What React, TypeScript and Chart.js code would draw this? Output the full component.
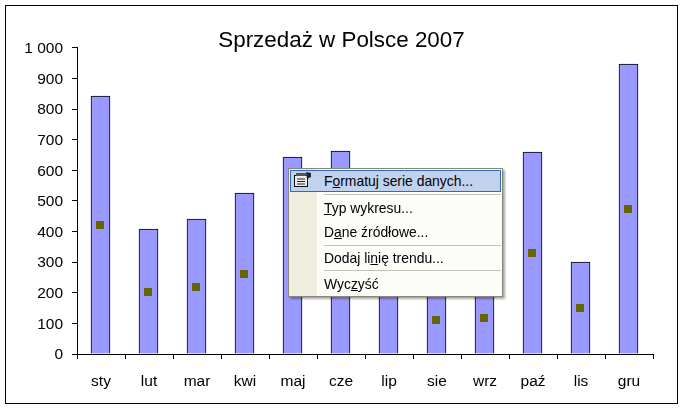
import React, { useEffect, useRef } from "react";
import { Chart, registerables } from "chart.js";

Chart.register(...registerables);

const TITLE = "Sprzedaż w Polsce 2007";
const months = ["sty", "lut", "mar", "kwi", "maj", "cze", "lip", "sie", "wrz", "paź", "lis", "gru"];
const sales = [843, 408, 440, 525, 643, 662, 400, 224, 236, 660, 300, 948];
const markers = [422, 204, 220, 262, 322, 331, 200, 112, 118, 330, 150, 474];
const yTicks = [0, 100, 200, 300, 400, 500, 600, 700, 800, 900, 1000];

const menuItems: [string, string, string, number][] = [
  ["F", "o", "rmatuj serie danych...", 181],
  ["", "T", "yp wykresu...", 208],
  ["D", "a", "ne źródłowe...", 232],
  ["Dodaj li", "n", "ię trendu...", 258],
  ["Wyc", "z", "yść", 284],
];
const separators = [194, 245, 270];

const framePlugin = {
  id: "frame",
  beforeDraw(chart: any) {
    const { ctx } = chart;
    ctx.save();
    ctx.fillStyle = "#fff";
    ctx.fillRect(0, 0, chart.width, chart.height);
    ctx.strokeStyle = "#000";
    ctx.lineWidth = 1;
    ctx.strokeRect(5.5, 5.5, 672, 398);
    ctx.restore();
  },
  afterLayout(chart: any) {
    const t = chart.titleBlock;
    if (!t) return;
    t.left = 0;
    t.right = chart.width;
    t.width = chart.width;
    t.top = 17.5;
    t.bottom = t.top + t.height;
  },
  afterDatasetsUpdate(chart: any) {
    chart.getDatasetMeta(0).data.forEach((p: any) => {
      p.x -= 1;
      p.y = Math.round(p.y);
    });
    chart.getDatasetMeta(1).data.forEach((b: any) => {
      b.x -= 0.5;
      b.y = Math.round(b.y);
    });
  },
};

function box(left: number, top: number, width: number, height: number, extra: React.CSSProperties = {}): React.CSSProperties {
  return { position: "absolute", left, top, width, height, boxSizing: "border-box", ...extra };
}

export default function App() {
  const ref = useRef<HTMLCanvasElement>(null);
  useEffect(() => {
    const chart = new Chart(ref.current!, {
      type: "bar",
      data: {
        labels: months,
        datasets: [
          {
            type: "line",
            label: "Średnia",
            data: markers,
            showLine: false,
            pointStyle: "rect",
            pointRadius: 5.66,
            pointBackgroundColor: "#666600",
            pointBorderWidth: 0,
            order: 0,
          },
          {
            type: "bar",
            label: "Sprzedaż",
            data: sales,
            backgroundColor: "#9999FF",
            borderColor: "#000",
            borderWidth: 1,
            barThickness: 19,
            order: 1,
          },
        ],
      },
      plugins: [framePlugin],
      options: {
        animation: false,
        responsive: false,
        layout: { padding: { left: 0, right: 30, top: 0, bottom: 0 } },
        plugins: {
          legend: { display: false },
          tooltip: { enabled: false },
          title: {
            display: true,
            text: TITLE,
            color: "#000",
            font: { family: "'Liberation Sans', Arial, sans-serif", size: 22.4, weight: "normal", lineHeight: 1.2 },
            padding: { top: 10, bottom: 11.1 },
          },
        },
        scales: {
          x: {
            offset: true,
            grid: { offset: true, drawOnChartArea: false, color: "#000", tickLength: 5, tickColor: "#000" },
            border: { color: "#000" },
            ticks: {
              color: "#000",
              padding: 13,
              maxRotation: 0,
              font: { family: "'Liberation Sans', Arial, sans-serif", size: 15.5 },
            },
            afterFit(s: any) { s.height = 57; },
          },
          y: {
            min: 0,
            max: 1000,
            afterBuildTicks(s: any) { s.ticks = yTicks.map((value) => ({ value })); },
            grid: { drawOnChartArea: false, color: "#000", tickLength: 5, tickColor: "#000" },
            border: { color: "#000" },
            ticks: {
              color: "#000",
              padding: 9,
              labelOffset: 1,
              font: { family: "'Liberation Sans', Arial, sans-serif", size: 15.5 },
              callback: (v: any) => String(v).replace(/\B(?=(\d{3})+$)/g, " "),
            },
            afterFit(s: any) { s.width = 77; },
          },
        },
      } as any,
    });
    return () => chart.destroy();
  }, []);

  return (
    <div style={{ position: "fixed", left: 0, top: 0, width: 683, height: 411, background: "#fff" }}>
      <canvas ref={ref} width={683} height={411} style={{ display: "block" }} />
      <div style={box(288, 168, 215, 129, { background: "#FCFCF9", border: "1px solid #8A867A", boxShadow: "2px 2px 2px rgba(0,0,0,0.35)" })} />
      <div style={box(289, 169, 28, 127, { background: "#EFEDDE" })} />
      <div style={box(290, 170, 211, 22, { background: "#C1D2EE", border: "1px solid #316AC5" })} />
      <svg style={box(293, 171, 19, 17)} viewBox="0 0 19 17">
        <rect x="1.5" y="4.5" width="13" height="11" fill="#eee" stroke="#111" />
        <rect x="3" y="2" width="10" height="3" fill="#555" />
        <path d="M4 8h8M4 10.5h8M4 13h8" stroke="#222" />
        <path d="M13 1l5 1v4l-4 2z" fill="#223" />
      </svg>
      {separators.map((y) => (
        <div key={y} style={box(324, y, 177, 1, { background: "#C5C2B8" })} />
      ))}
      {menuItems.map(([a, k, b, y]) => (
        <div
          key={y}
          style={{
            position: "absolute",
            left: 324,
            top: y - 9,
            height: 18,
            lineHeight: "18px",
            whiteSpace: "pre",
            color: "#000",
            fontFamily: "'Liberation Sans', Arial, sans-serif",
            fontSize: 13.9,
          }}
        >
          {a}
          <span style={{ textDecoration: "underline" }}>{k}</span>
          {b}
        </div>
      ))}
    </div>
  );
}
